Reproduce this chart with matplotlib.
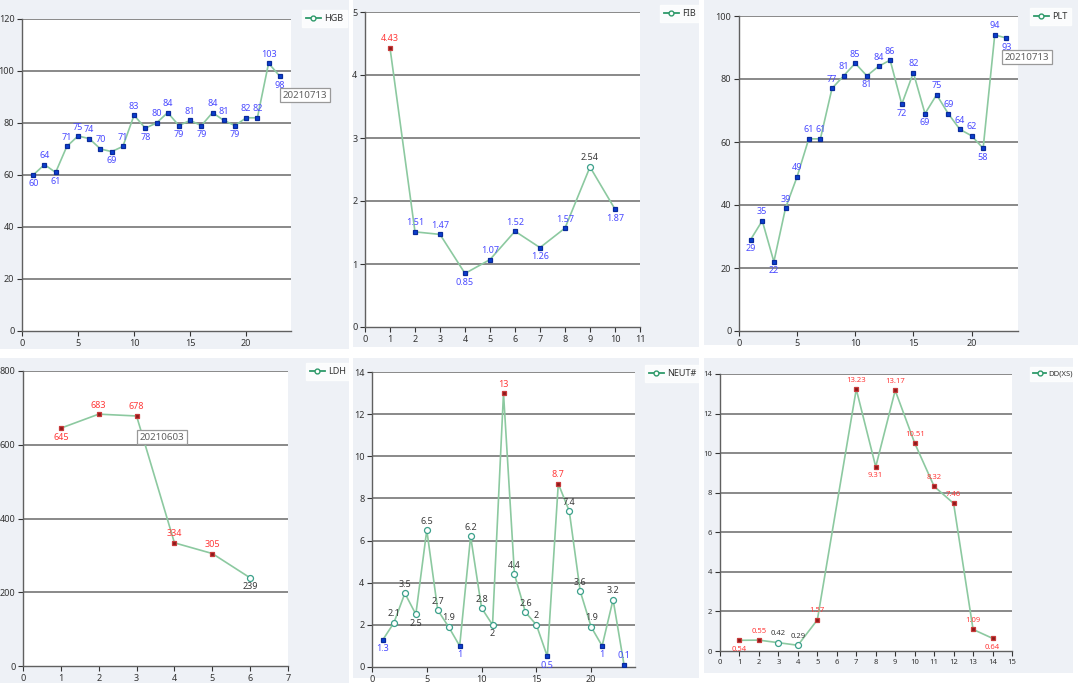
import matplotlib
matplotlib.use("Agg")
import matplotlib.pyplot as plt
from matplotlib.patches import Rectangle
from matplotlib.lines import Line2D

plt.rcParams['font.family'] = ['Noto Sans', 'DejaVu Sans']

W, H = 1080, 683

# ---- data ----
hgb_x = list(range(1, 24))
hgb_y = [60, 64, 61, 71, 75, 74, 70, 69, 71, 83, 78, 80, 84, 79, 81, 79, 84, 81, 79, 82, 82, 103, 98]
hgb_flag = list("LLLLLLLLLLLLLLLLLLLLLLL")

fib_x = list(range(1, 11))
fib_y = [4.43, 1.51, 1.47, 0.85, 1.07, 1.52, 1.26, 1.57, 2.54, 1.87]
fib_flag = list("HLLLLLLLNL")

plt_x = list(range(1, 24))
plt_y = [29, 35, 22, 39, 49, 61, 61, 77, 81, 85, 81, 84, 86, 72, 82, 69, 75, 69, 64, 62, 58, 94, 93]
plt_flag = list("LLLLLLLLLLLLLLLLLLLLLLL")

ldh_x = [1, 2, 3, 4, 5, 6]
ldh_y = [645, 683, 678, 334, 305, 239]
ldh_flag = list("HHHHHN")

neut_x = list(range(1, 24))
neut_y = [1.3, 2.1, 3.5, 2.5, 6.5, 2.7, 1.9, 1, 6.2, 2.8, 2, 13, 4.4, 2.6, 2, 0.5, 8.7, 7.4, 3.6, 1.9, 1, 3.2, 0.1]
neut_flag = list("LNNNNNNLNNNHNNNLHNNNLNL")

dd_x = [1, 2, 3, 4, 5, 7, 8, 9, 10, 11, 12, 13, 14]
dd_y = [0.54, 0.55, 0.42, 0.29, 1.57, 13.23, 9.31, 13.17, 10.51, 8.32, 7.46, 1.09, 0.64]
dd_flag = list("HHNNHHHHHHHHH")

# name, x, y, flags, xmax, xstep, ymax, ystep, axes px box (l, t, r, b), panel px box, legend px (l, t), note
panels = [
    ("HGB", hgb_x, hgb_y, hgb_flag, 24, 5, 120, 20, (22, 19, 291, 331), (0, 0, 349, 349), (302, 10), ("20210713", 305, 95)),
    ("FIB", fib_x, fib_y, fib_flag, 11, 1, 5, 1, (365, 12, 640, 327), (353, 0, 699, 347), (660, 5), None),
    ("PLT", plt_x, plt_y, plt_flag, 24, 5, 100, 20, (739, 16, 1018, 331), (704, 0, 1078, 345), (1030, 8), ("20210713", 1027, 57)),
    ("LDH", ldh_x, ldh_y, ldh_flag, 7, 1, 800, 200, (23, 371, 288, 666), (0, 358, 349, 683), (306, 363), ("20210603", 162, 437)),
    ("NEUT#", neut_x, neut_y, neut_flag, 24, 5, 14, 2, (372, 372, 635, 667), (353, 358, 699, 678), (645, 365), None),
    ("DD(XS)", dd_x, dd_y, dd_flag, 15, 1, 14, 2, (720, 374, 1012, 651), (704, 358, 1073, 673), (1030, 367), None),
]

line_c = '#8cc9a0'
mk = {
    'L': dict(marker='s', ms=3.3, mfc='#0a3fd0', mec='#0a2a9a'),
    'H': dict(marker='s', ms=3.3, mfc='#8b1a1a', mec='#c83a3a'),
    'N': dict(marker='o', ms=4.3, mfc='white', mec='#3aa08a'),
}
lab_c = {'L': '#4a4aff', 'H': '#ff3a3a', 'N': '#3a3a3a'}

fig = plt.figure(figsize=(W / 100, H / 100), dpi=100)
fig.patch.set_facecolor('white')

for name, xs, ys, fl, xmax, xstep, ymax, ystep, box, pbox, leg, note in panels:
    pl, pt, pr, pb = pbox
    fig.patches.append(Rectangle((pl / W, 1 - pb / H), (pr - pl) / W, (pb - pt) / H,
                                 transform=fig.transFigure, facecolor='#eef1f6',
                                 edgecolor='none', zorder=-5))
    l, t, r, b = box
    ax = fig.add_axes([l / W, 1 - b / H, (r - l) / W, (b - t) / H])
    ax.set_facecolor('white')
    ax.set_xlim(0, xmax)
    ax.set_ylim(0, ymax)
    ax.set_xticks(range(0, xmax + 1, xstep))
    yt = [i * ystep for i in range(int(round(ymax / ystep)) + 1)]
    ax.set_yticks(yt)
    small = name == "DD(XS)"
    fs = 5.5 if small else 6.5
    ax.tick_params(labelsize=fs, colors='#333333', length=3.5, width=0.8, pad=2,
                   direction='out')
    for s in ('top', 'right'):
        ax.spines[s].set_visible(False)
    for s in ('left', 'bottom'):
        ax.spines[s].set_color('#606060')
        ax.spines[s].set_linewidth(1.0)
    for v in yt[1:]:
        ax.axhline(v, color='#6a6a6a', lw=1.1, zorder=1)

    ax.plot(xs, ys, color=line_c, lw=1.2, zorder=2)
    n = len(ys)
    for i in range(n):
        f = fl[i]
        ax.plot(xs[i], ys[i], linestyle='none', zorder=3, mew=0.9, **mk[f])
        prev = ys[i - 1] if i > 0 else None
        nxt = ys[i + 1] if i < n - 1 else None
        nb = [v for v in (prev, nxt) if v is not None]
        below = all(ys[i] < v for v in nb)
        if below and ys[i] < 0.03 * ymax:
            below = False
        dy = -9 if below else 9
        ax.annotate(f"{ys[i]:g}", (xs[i], ys[i]), textcoords='offset pixels',
                    xytext=(0, dy), ha='center', va='center', fontsize=fs,
                    color=lab_c[f], zorder=4, annotation_clip=False)

    h = Line2D([], [], color='#2e9a6a', lw=1.3, marker='o', ms=3.5, mfc='white',
               mec='#2e9a6a')
    lg = fig.legend([h], [name], loc='upper left',
                    bbox_to_anchor=(leg[0] / W, 1 - leg[1] / H),
                    fontsize=5.5 if small else 6.5, frameon=True, fancybox=False,
                    handlelength=1.6, handletextpad=0.4, borderpad=0.45,
                    borderaxespad=0)
    lg.get_frame().set_facecolor('white')
    lg.get_frame().set_edgecolor('white')
    for tx in lg.get_texts():
        tx.set_color('#333333')

    if note:
        fig.text(note[1] / W, 1 - note[2] / H, note[0], ha='center', va='center',
                 fontsize=7, color='#606060',
                 bbox=dict(boxstyle='square,pad=0.3', fc='white', ec='#999999', lw=0.9))

fig.savefig('out.png', dpi=100)
